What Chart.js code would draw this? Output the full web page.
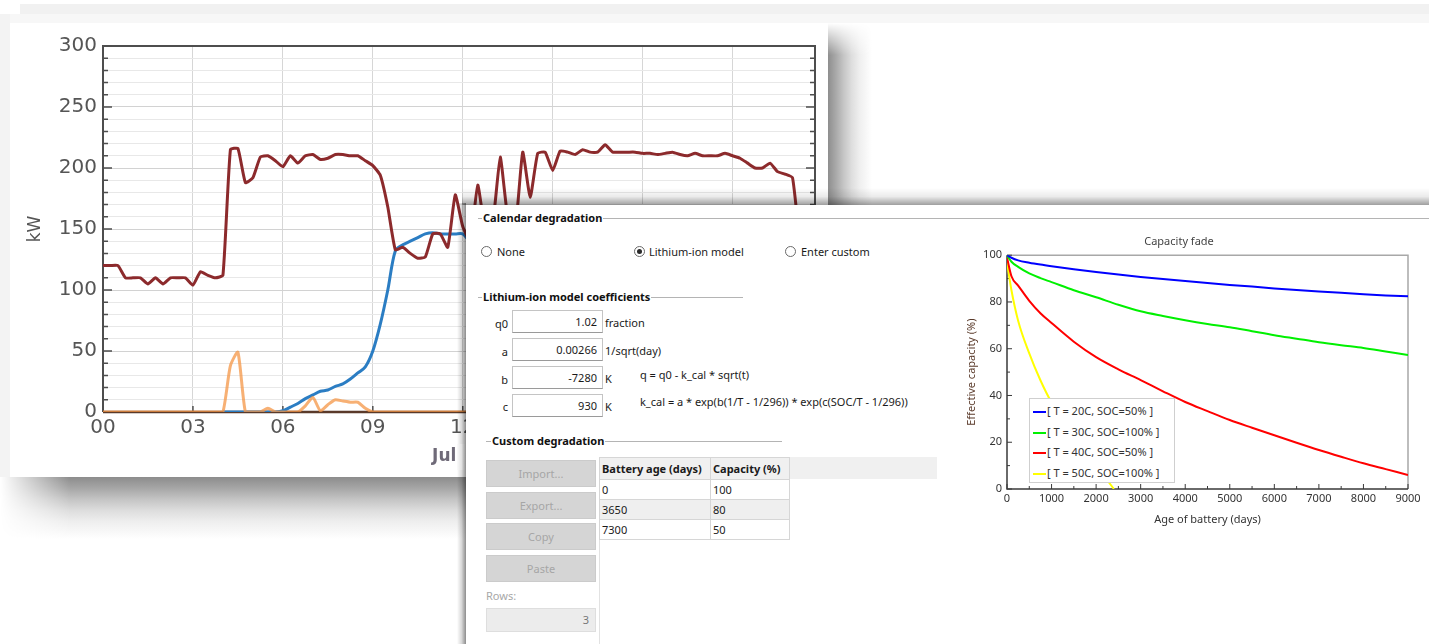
<!DOCTYPE html>
<html><head><meta charset="utf-8">
<script src="https://cdn.jsdelivr.net/npm/chart.js"></script>
<style>
html,body{margin:0;padding:0;}
body{width:1429px;height:644px;position:relative;overflow:hidden;background:#fff;font-family:"Noto Sans",sans-serif;color:#1a1a1a;}
.abs{position:absolute;}
#band1{left:20px;top:4px;width:1409px;height:10px;background:#f1f1f1}
#band2{left:0;top:14px;width:1429px;height:9px;background:#f7f7f7}
#leftband{left:0;top:14px;width:10px;height:463px;background:#f3f3f3}
#back{left:10px;top:23px;width:818px;height:454px;background:#fff}
#shR{left:828px;top:23px;width:44px;height:182px;background:linear-gradient(to right,#8e8e8e 0,#a9a9a9 18%,#c6c6c6 36%,#dedede 54%,#efefef 72%,#fff 100%);-webkit-mask-image:linear-gradient(to bottom,transparent 0,#000 32px);mask-image:linear-gradient(to bottom,transparent 0,#000 32px)}
#shB{left:0;top:477px;width:466px;height:62px;background:linear-gradient(to bottom,#8c8c8c 0,#a6a6a6 18%,#c4c4c4 36%,#dddddd 54%,#eeeeee 72%,#fff 100%);-webkit-mask-image:linear-gradient(to right,transparent 0,#000 70px);mask-image:linear-gradient(to right,transparent 0,#000 70px)}
#front{left:466px;top:205px;width:963px;height:439px;background:#fff;font-size:11px;}
#shFT{left:462px;top:188px;width:967px;height:17px;background:linear-gradient(to bottom,rgba(0,0,0,0) 0,rgba(0,0,0,0.08) 50%,rgba(0,0,0,0.38) 100%)}
#shFL{left:457px;top:203px;width:9px;height:441px;background:linear-gradient(to right,rgba(0,0,0,0) 0,rgba(0,0,0,0.15) 50%,rgba(0,0,0,0.45) 100%)}
#shFLt{left:457px;top:444px;width:9px;height:26px;background:linear-gradient(to right,#fbfbfb 0,#e2e2e2 50%,#8c8c8c 100%)}
.gl{position:absolute;height:1px;background:#b4b4b4}
.gt{position:absolute;background:#fff;font-weight:bold;font-size:11px;line-height:14px;padding:0 1px;color:#111}
.radio{position:absolute;width:11px;height:11px;border:1px solid #6a6a6a;border-radius:50%;background:#fff;box-sizing:border-box}
.radio.on::after{content:"";position:absolute;left:2px;top:2px;width:5px;height:5px;border-radius:50%;background:#2a2a2a}
.txt{position:absolute;font-size:11px;line-height:14px;white-space:nowrap}
.box{position:absolute;width:91px;height:23px;border:1px solid #c4c4c4;border-bottom-color:#9a9a9a;box-sizing:border-box;background:#fff;text-align:right;padding-right:5px;font-size:11px;line-height:21px}
.btn{position:absolute;left:20px;width:110px;height:27px;background:#d5d5d5;border:1px solid #cbcbcb;box-sizing:border-box;color:#a6a6a6;text-align:center;font-size:11px;line-height:25px}
table{position:absolute;left:133px;top:252px;border-collapse:collapse;font-size:11px}
td,th{border:1px solid #d6d6d6;padding:0 2px;height:19px;line-height:17px;text-align:left;white-space:nowrap}
th{background:#f0f0f0;height:21px;font-weight:bold}
#legend2{left:1029px;top:398px;width:146px;height:85px;background:#fff;border:1px solid #cfcfcf;box-sizing:border-box;padding-top:2px;font-size:11px;color:#333}
.lrow{height:20.5px;line-height:20.5px;white-space:nowrap;position:relative;padding-left:17px}
.lsw{position:absolute;left:3px;top:10px;width:13px;height:2px}
</style></head>
<body>
<div id="band1" class="abs"></div>
<div id="band2" class="abs"></div>
<div id="leftband" class="abs"></div>
<div id="shR" class="abs"></div>
<div id="shB" class="abs"></div>
<div id="back" class="abs"><canvas id="c1" width="818" height="454"></canvas></div>

<div id="shFT" class="abs"></div>
<div id="shFL" class="abs"></div>
<div id="shFLt" class="abs"></div>
<div id="front" class="abs">
  <div class="gl" style="left:12px;top:13px;width:951px"></div>
  <div class="gt" style="left:16px;top:6px">Calendar degradation</div>

  <div class="radio" style="left:15px;top:41px"></div><div class="txt" style="left:31px;top:40px">None</div>
  <div class="radio on" style="left:168px;top:41px"></div><div class="txt" style="left:183px;top:40px">Lithium-ion model</div>
  <div class="radio" style="left:319px;top:41px"></div><div class="txt" style="left:335px;top:40px">Enter custom</div>

  <div class="gl" style="left:12px;top:92px;width:265px"></div>
  <div class="gt" style="left:16px;top:85px">Lithium-ion model coefficients</div>

  <div class="txt" style="right:921px;top:112px">q0</div>
  <div class="box" style="left:46px;top:105px">1.02</div>
  <div class="txt" style="left:139px;top:111px">fraction</div>
  <div class="txt" style="right:921px;top:140px">a</div>
  <div class="box" style="left:46px;top:133px">0.00266</div>
  <div class="txt" style="left:139px;top:139px">1/sqrt(day)</div>
  <div class="txt" style="right:921px;top:168px">b</div>
  <div class="box" style="left:46px;top:161px">-7280</div>
  <div class="txt" style="left:139px;top:167px">K</div>
  <div class="txt" style="right:921px;top:195px">c</div>
  <div class="box" style="left:46px;top:189px">930</div>
  <div class="txt" style="left:139px;top:195px">K</div>
  <div class="txt" style="left:174px;top:163px">q = q0 - k_cal * sqrt(t)</div>
  <div class="txt" style="left:174px;top:190px">k_cal = a * exp(b(1/T - 1/296)) * exp(c(SOC/T - 1/296))</div>

  <div class="gl" style="left:20px;top:236px;width:296px"></div>
  <div class="gt" style="left:25px;top:229px">Custom degradation</div>

  <div class="btn" style="top:255px">Import...</div>
  <div class="btn" style="top:287px">Export...</div>
  <div class="btn" style="top:318px">Copy</div>
  <div class="btn" style="top:350px">Paste</div>
  <div class="txt" style="left:20px;top:384px;color:#a8a8a8">Rows:</div>
  <div class="abs" style="left:20px;top:403px;width:110px;height:24px;background:#ececec;border:1px solid #dedede;box-sizing:border-box;text-align:right;padding-right:6px;line-height:22px;color:#777">3</div>

  <div class="abs" style="left:133px;top:252px;width:338px;height:22px;background:#f0f0f0"></div>
  <div class="abs" style="left:133px;top:334px;width:1px;height:105px;background:#e2e2e2"></div>
  <table>
    <tr><th style="width:106px">Battery age (days)</th><th style="width:74px">Capacity (%)</th></tr>
    <tr><td>0</td><td>100</td></tr>
    <tr style="background:#efefef"><td>3650</td><td>80</td></tr>
    <tr><td>7300</td><td>50</td></tr>
  </table>
</div>
<canvas id="c2" class="abs" style="left:950px;top:228px" width="479" height="300"></canvas>
<div id="legend2" class="abs"></div>

<script>
// ---------- Back chart: daily power profile (15-minute samples starting at 00:00) ----------
const STEP_HOURS = 0.25;
const hourTicks = [0, 3, 6, 9, 12, 15, 18, 21];
const dateLabel = 'Jul 12';
const loadKW = [120,120,120,110,110,110,105,110,105,110,110,110,104,115,112,110,
  112,215,216,188,192,209,210,206,201,210,204,210,211,207,208,211,
  211,210,210,206,202,194,168,133,135,130,126,127,146,146,135,178,
  152,140,186,150,155,209,160,150,213,176,212,213,198,214,213,211,
  215,213,213,219,213,213,213,213,212,212,211,212,213,211,210,212,
  210,210,210,212,210,208,204,200,200,204,197,195,192,140,125,120];
const pvKW = [null,null,null,null,null,null,null,null,null,null,null,null,null,null,null,null,
  0,0,0,0,0,0,0,0,1,4,7,11,14,17,18,21,
  23,27,32,37,50,72,100,132,137,140,143,146,147,146,146,146,
  146,140,142,145,144,143,140,138,135,130,126,120,113,105,96,86,
  76,66,56,47,38,30,23,17,11,7,4,2,1,0,0,0,
  0,0,0,0,0,0,0,0,0,0,0,0,0,0,0,0];
const batteryKW = [0,0,0,0,0,0,0,0,0,0,0,0,0,0,0,0,
  0,38,49,0,0,0,3,0,0,0,0,5,12,1,6,10,
  9,8,8,3,0,0,0,0,0,0,0,0,0,0,0,0,
  0,0,0,0,0,0,0,0,0,0,0,0,0,0,0,0,
  0,0,0,0,0,0,0,0,0,0,0,0,0,0,0,0,
  0,0,0,0,0,0,0,0,0,0,0,0,0,0,0,0];

// ---------- Front chart: capacity fade ----------
const capDays = [0,100,250,500,750,1000,1500,2000,2500,3000,3500,4000,4500,5000,5500,6000,6500,7000,7500,8000,8500,9000];
const cap20C = [100,98.9,97.8,96.8,96.0,95.3,94.0,92.8,91.7,90.7,89.8,89.0,88.1,87.3,86.6,85.8,85.1,84.5,83.9,83.3,82.8,82.4];
const cap30C = [100,97.2,95.0,92.2,90.2,88.5,85.0,82.0,78.8,76.0,74.0,72.2,70.6,69.2,67.5,65.8,64.3,62.8,61.5,60.3,58.8,57.3];
const cap40C = [99,91,87,80.5,75.2,71,63,56.4,51.2,46.6,41.8,37.2,33.3,29.5,26.2,23,19.8,16.7,13.8,11,8.5,6];
const cap50CDays = [0,100,250,500,750,1000,1500,2000,2400];
const cap50C = [97,85,72,58,46.5,37,23,10,0];
const capLabels = ['[ T = 20C, SOC=50% ]','[ T = 30C, SOC=100% ]','[ T = 40C, SOC=50% ]','[ T = 50C, SOC=100% ]'];
const capColors = ['#0000ff','#00f000','#ff0000','#ffff00'];

const toTime = arr => arr.map((v, i) => ({x: i * STEP_HOURS, y: v}));
const pair = (xs, ys) => xs.map((d, i) => ({x: d, y: ys[i]}));

const frame1 = {
  id: 'frame1',
  beforeDatasetsDraw(chart) {
    const {ctx, chartArea: a, scales: {x, y}} = chart;
    ctx.save();
    ctx.lineWidth = 2;
    ctx.strokeStyle = '#4e4e4e';
    ctx.beginPath();
    ctx.moveTo(a.left, a.bottom); ctx.lineTo(a.left, a.top); ctx.lineTo(a.right, a.top); ctx.lineTo(a.right, a.bottom);
    ctx.stroke();
    ctx.lineWidth = 1.5;
    y.ticks.forEach(t => {
      const py = y.getPixelForValue(t.value);
      const len = t.value % 50 === 0 ? 9 : 5;
      ctx.beginPath();
      ctx.moveTo(a.left, py); ctx.lineTo(a.left + len, py);
      ctx.moveTo(a.right, py); ctx.lineTo(a.right - len, py);
      ctx.stroke();
    });
    x.ticks.forEach(t => {
      const px = x.getPixelForValue(t.value);
      ctx.beginPath(); ctx.moveTo(px, a.bottom); ctx.lineTo(px, a.bottom - 6); ctx.stroke();
    });
    ctx.lineWidth = 2.5;
    ctx.strokeStyle = '#5a3a2a';
    ctx.beginPath(); ctx.moveTo(a.left, a.bottom); ctx.lineTo(a.right, a.bottom); ctx.stroke();
    ctx.restore();
  }
};

new Chart(document.getElementById('c1'), {
  type: 'line',
  data: {datasets: [
    {label: 'Battery', data: toTime(batteryKW), borderColor: 'rgba(244,150,70,0.75)', borderWidth: 3, pointRadius: 0, tension: 0.2},
    {label: 'Load', data: toTime(loadKW), borderColor: '#8c2a2c', borderWidth: 3, pointRadius: 0, tension: 0.15},
    {label: 'PV', data: toTime(pvKW), borderColor: '#2b7dc3', borderWidth: 3, pointRadius: 0, tension: 0.3}
  ]},
  options: {
    responsive: false, animation: false, events: [],
    layout: {padding: {left: 0, top: 23, right: 13, bottom: 0}},
    plugins: {legend: {display: false}, tooltip: {enabled: false}},
    scales: {
      x: {
        type: 'linear', min: 0, max: 23.75,
        afterBuildTicks: s => { s.ticks = hourTicks.map(v => ({value: v})); },
        ticks: {callback: v => String(v).padStart(2, '0'), font: {family: 'DejaVu Sans', size: 20}, color: '#555', padding: 4, maxRotation: 0, autoSkip: false},
        grid: {color: '#d6d6d6', lineWidth: 1, drawTicks: false},
        border: {display: false},
        title: {display: true, text: dateLabel, font: {family: 'DejaVu Sans', size: 17, weight: 'bold'}, color: '#6f6a78', padding: {top: 0, bottom: 10}},
        afterFit: s => { s.height = 65; s.paddingLeft = 0; s.paddingRight = 0; }
      },
      y: {
        min: 0, max: 300,
        ticks: {stepSize: 10, autoSkip: false, callback: v => (v % 50 === 0 ? String(v) : ''), font: {family: 'DejaVu Sans', size: 20}, color: '#555', padding: 6},
        grid: {color: c => (c.tick && c.tick.value % 50 === 0 ? '#d2d2d2' : '#e8e8e8'), drawTicks: false},
        border: {display: false},
        title: {display: true, text: 'kW', font: {family: 'DejaVu Sans', size: 17}, color: '#555', padding: {top: 15, bottom: 0}},
        afterFit: s => { s.width = 93; s.paddingTop = 0; s.paddingBottom = 0; }
      }
    }
  },
  plugins: [frame1]
});

const frame2 = {
  id: 'frame2',
  beforeDatasetsDraw(chart) {
    const {ctx, chartArea: a, scales: {x, y}} = chart;
    ctx.save();
    ctx.lineWidth = 1.5;
    ctx.strokeStyle = '#a8a8a8';
    ctx.beginPath(); ctx.moveTo(a.left, a.top); ctx.lineTo(a.right, a.top); ctx.lineTo(a.right, a.bottom); ctx.stroke();
    ctx.strokeStyle = '#3a3a3a';
    ctx.beginPath(); ctx.moveTo(a.left, a.top); ctx.lineTo(a.left, a.bottom); ctx.lineTo(a.right, a.bottom); ctx.stroke();
    ctx.lineWidth = 1;
    x.ticks.forEach(t => {
      const px = x.getPixelForValue(t.value);
      ctx.beginPath(); ctx.moveTo(px, a.bottom); ctx.lineTo(px, a.bottom - 5); ctx.stroke();
      const q = x.getPixelForValue(t.value + 500);
      if (q < a.right) { ctx.beginPath(); ctx.moveTo(q, a.bottom); ctx.lineTo(q, a.bottom - 3); ctx.stroke(); }
    });
    y.ticks.forEach(t => {
      const py = y.getPixelForValue(t.value);
      ctx.beginPath(); ctx.moveTo(a.left, py); ctx.lineTo(a.left + 5, py); ctx.stroke();
      const q = y.getPixelForValue(t.value + 10);
      if (q > a.top) { ctx.beginPath(); ctx.moveTo(a.left, q); ctx.lineTo(a.left + 3, q); ctx.stroke(); }
    });
    ctx.restore();
  }
};

const capData = [pair(capDays, cap20C), pair(capDays, cap30C), pair(capDays, cap40C), pair(cap50CDays, cap50C)];
const chart2 = new Chart(document.getElementById('c2'), {
  type: 'line',
  data: {datasets: capData.map((d, i) => ({label: capLabels[i], data: d, borderColor: capColors[i], borderWidth: 2, pointRadius: 0, cubicInterpolationMode: 'monotone'}))},
  options: {
    responsive: false, animation: false, events: [],
    layout: {padding: {left: 0, top: 0, right: 21, bottom: 0}},
    plugins: {
      legend: {display: false}, tooltip: {enabled: false},
      title: {display: true, text: 'Capacity fade', font: {family: 'Noto Sans', size: 11, weight: 'normal'}, color: '#444', padding: {top: 7, bottom: 7}}
    },
    scales: {
      x: {
        type: 'linear', min: 0, max: 9000,
        ticks: {stepSize: 1000, callback: v => String(v), font: {family: 'Noto Sans', size: 11}, color: '#333', padding: 3, maxRotation: 0, autoSkip: false},
        grid: {display: false, drawTicks: false}, border: {display: false},
        title: {display: true, text: 'Age of battery (days)', font: {family: 'Noto Sans', size: 11}, color: '#333', padding: {top: 0, bottom: 2}},
        afterFit: s => { s.height = 39; s.paddingLeft = 0; s.paddingRight = 0; }
      },
      y: {
        min: 0, max: 100,
        ticks: {stepSize: 20, font: {family: 'Noto Sans', size: 11}, color: '#333', padding: 5},
        grid: {display: false, drawTicks: false}, border: {display: false},
        title: {display: true, text: 'Effective capacity (%)', font: {family: 'Noto Sans', size: 11}, color: '#5a3a2a', padding: {top: 15, bottom: 0}},
        afterFit: s => { s.width = 57; s.paddingTop = 0; s.paddingBottom = 0; }
      }
    }
  },
  plugins: [frame2]
});

const leg = document.getElementById('legend2');
chart2.data.datasets.forEach(ds => {
  const row = document.createElement('div');
  row.className = 'lrow';
  const sw = document.createElement('span');
  sw.className = 'lsw';
  sw.style.background = ds.borderColor;
  row.appendChild(sw);
  row.appendChild(document.createTextNode(ds.label));
  leg.appendChild(row);
});
</script>
</body></html>
